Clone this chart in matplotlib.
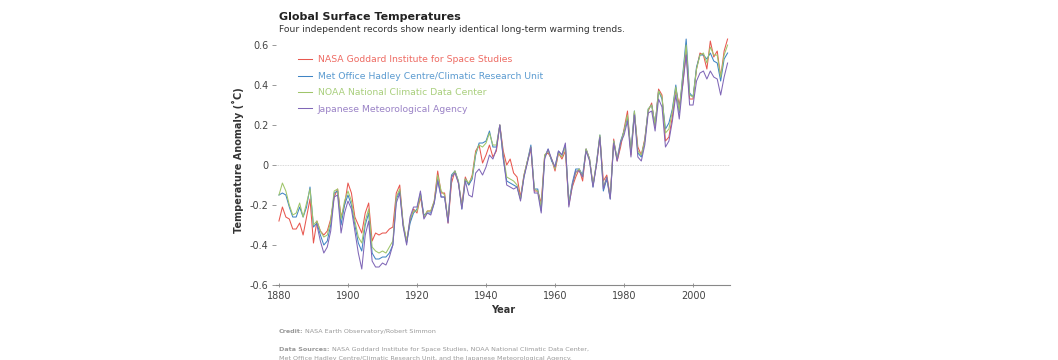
import numpy as np
import matplotlib.pyplot as plt

# Annual temperature anomalies (deg C)
years = np.arange(1880, 2011)
jma_years = np.arange(1891, 2011)

nasa_giss = [
    -0.28, -0.21, -0.26, -0.27, -0.32, -0.32, -0.29, -0.35, -0.26, -0.17,
    -0.39, -0.28, -0.33, -0.35, -0.33, -0.27, -0.16, -0.12, -0.26, -0.20,
    -0.09, -0.14, -0.26, -0.30, -0.34, -0.24, -0.19, -0.38, -0.34, -0.35,
    -0.34, -0.34, -0.32, -0.31, -0.14, -0.10, -0.30, -0.38, -0.28, -0.22,
    -0.24, -0.16, -0.26, -0.23, -0.23, -0.18, -0.03, -0.14, -0.14, -0.29,
    -0.09, -0.03, -0.09, -0.20, -0.06, -0.10, -0.05, 0.07, 0.10, 0.01,
    0.05, 0.10, 0.04, 0.07, 0.20, 0.07, 0.00, 0.03, -0.04, -0.06,
    -0.16, -0.05, 0.02, 0.08, -0.13, -0.13, -0.19, 0.05, 0.06, 0.03,
    -0.03, 0.06, 0.03, 0.07, -0.20, -0.11, -0.06, -0.02, -0.08, 0.08,
    0.03, -0.10, 0.00, 0.14, -0.08, -0.05, -0.16, 0.13, 0.02, 0.09,
    0.18, 0.27, 0.05, 0.26, 0.09, 0.05, 0.13, 0.27, 0.31, 0.19,
    0.38, 0.35, 0.12, 0.14, 0.24, 0.38, 0.30, 0.40, 0.57, 0.33,
    0.33, 0.48, 0.56, 0.55, 0.48, 0.62, 0.54, 0.57, 0.44, 0.57,
    0.63,
]

hadley_cru = [
    -0.15, -0.14, -0.15, -0.21, -0.26, -0.26, -0.21, -0.26, -0.21, -0.11,
    -0.31, -0.29, -0.35, -0.40, -0.38, -0.30, -0.14, -0.13, -0.30, -0.20,
    -0.15, -0.20, -0.30, -0.39, -0.43, -0.30, -0.24, -0.44, -0.47, -0.47,
    -0.46, -0.46, -0.44, -0.40, -0.17, -0.13, -0.30, -0.39, -0.29, -0.24,
    -0.22, -0.14, -0.25, -0.24, -0.24, -0.19, -0.07, -0.16, -0.16, -0.28,
    -0.05, -0.03, -0.08, -0.22, -0.07, -0.10, -0.07, 0.05, 0.11, 0.11,
    0.12, 0.17, 0.09, 0.09, 0.20, 0.03, -0.08, -0.09, -0.10, -0.11,
    -0.17, -0.06, 0.02, 0.10, -0.12, -0.12, -0.23, 0.04, 0.08, 0.02,
    -0.01, 0.07, 0.05, 0.10, -0.19, -0.09, -0.02, -0.02, -0.05, 0.08,
    0.03, -0.11, 0.01, 0.15, -0.13, -0.07, -0.17, 0.12, 0.03, 0.12,
    0.17, 0.24, 0.07, 0.27, 0.06, 0.04, 0.12, 0.28, 0.30, 0.20,
    0.37, 0.33, 0.18, 0.21, 0.28, 0.40, 0.26, 0.45, 0.63, 0.36,
    0.34, 0.49, 0.55, 0.55, 0.53, 0.56, 0.52, 0.51, 0.42, 0.53,
    0.56,
]

noaa_ncdc = [
    -0.15, -0.09, -0.13, -0.20, -0.25, -0.24, -0.19, -0.26, -0.19, -0.12,
    -0.30, -0.28, -0.33, -0.36, -0.35, -0.28, -0.13, -0.12, -0.27, -0.18,
    -0.13, -0.18, -0.28, -0.36, -0.39, -0.28, -0.22, -0.41, -0.43, -0.44,
    -0.43, -0.44, -0.41, -0.38, -0.16, -0.12, -0.29, -0.38, -0.27, -0.23,
    -0.23, -0.15, -0.26, -0.23, -0.23, -0.18, -0.05, -0.13, -0.15, -0.28,
    -0.06, -0.03, -0.08, -0.21, -0.07, -0.09, -0.06, 0.06, 0.10, 0.09,
    0.11, 0.16, 0.10, 0.10, 0.20, 0.05, -0.06, -0.07, -0.08, -0.10,
    -0.17, -0.05, 0.02, 0.09, -0.12, -0.13, -0.21, 0.05, 0.07, 0.03,
    -0.02, 0.06, 0.04, 0.09, -0.19, -0.10, -0.04, -0.02, -0.06, 0.08,
    0.03, -0.10, 0.01, 0.15, -0.11, -0.06, -0.16, 0.12, 0.03, 0.11,
    0.17, 0.25, 0.06, 0.27, 0.07, 0.05, 0.12, 0.28, 0.30, 0.20,
    0.37, 0.34, 0.16, 0.18, 0.27, 0.39, 0.27, 0.44, 0.60, 0.35,
    0.34, 0.48, 0.55, 0.56, 0.51, 0.59, 0.55, 0.55, 0.44, 0.55,
    0.60,
]

jma = [
    -0.30, -0.38, -0.44, -0.41, -0.33, -0.16, -0.15, -0.34, -0.24,
    -0.18, -0.22, -0.33, -0.44, -0.52, -0.35, -0.28, -0.48, -0.51, -0.51,
    -0.49, -0.50, -0.46, -0.40, -0.19, -0.14, -0.31, -0.40, -0.26, -0.21,
    -0.21, -0.13, -0.27, -0.24, -0.25, -0.19, -0.08, -0.16, -0.16, -0.29,
    -0.06, -0.04, -0.09, -0.22, -0.08, -0.15, -0.16, -0.04, -0.02, -0.05,
    -0.01, 0.05, 0.03, 0.08, 0.20, 0.04, -0.10, -0.11, -0.12, -0.11,
    -0.18, -0.06, 0.01, 0.09, -0.14, -0.14, -0.24, 0.03, 0.08, 0.03,
    -0.01, 0.07, 0.05, 0.11, -0.21, -0.10, -0.03, -0.03, -0.06, 0.07,
    0.02, -0.11, 0.00, 0.14, -0.12, -0.06, -0.17, 0.11, 0.02, 0.11,
    0.15, 0.22, 0.04, 0.25, 0.04, 0.02, 0.10, 0.26, 0.27, 0.17,
    0.33, 0.29, 0.09, 0.12, 0.22, 0.35, 0.23, 0.40, 0.55, 0.30,
    0.30, 0.42, 0.46, 0.47, 0.43, 0.47, 0.44, 0.43, 0.35, 0.44,
    0.51,
]

labels = [
    "NASA Goddard Institute for Space Studies",
    "Met Office Hadley Centre/Climatic Research Unit",
    "NOAA National Climatic Data Center",
    "Japanese Meteorological Agency",
]
line_colors = ["#e8574f", "#3f84c4", "#9fc56a", "#8067b7"]
text_colors = ["#ee6b63", "#5b9bd0", "#a9cf7d", "#9a82c6"]
yticks = [-0.6, -0.4, -0.2, 0, 0.2, 0.4, 0.6]
xticks = [1880, 1900, 1920, 1940, 1960, 1980, 2000]

plt.rcParams["font.family"] = "DejaVu Sans"

fig = plt.figure(figsize=(10.58, 3.6), dpi=100)
ax = fig.add_axes([0.2604, 0.2083, 0.4299, 0.6944])

series = [(years, nasa_giss), (years, hadley_cru), (years, noaa_ncdc), (jma_years, jma)]
for (x, y), c, lab in zip(series, line_colors, labels):
    ax.plot(x, y, color=c, lw=0.75, label=lab)

ax.axhline(0, color="#cccccc", lw=0.6, ls=(0, (1, 1)), zorder=0)

ax.set_xlim(1879, 2010.8)
ax.set_ylim(-0.6, 0.65)
ax.set_xticks(xticks)
ax.set_yticks(yticks)
ax.set_yticklabels(["-0.6", "-0.4", "-0.2", "0", "0.2", "0.4", "0.6"])
for s in ["top", "right", "left"]:
    ax.spines[s].set_visible(False)
ax.spines["bottom"].set_color("#888888")
ax.spines["bottom"].set_linewidth(0.8)
ax.tick_params(axis="x", direction="inout", length=3, width=0.6, color="#888888",
               labelsize=7, labelcolor="#444444", pad=3)
ax.tick_params(axis="y", direction="out", length=3, width=0.6, color="#888888",
               labelsize=7, labelcolor="#444444", pad=2)

ax.set_xlabel("Year", fontsize=7, fontweight="bold", color="#333333", labelpad=3)
ax.set_ylabel("Temperature Anomaly (˚C)", fontsize=7, fontweight="bold",
              color="#333333", labelpad=4)

leg = ax.legend(loc="upper left", bbox_to_anchor=(0.03, 0.952), frameon=False,
                fontsize=6.7, handlelength=1.6, handletextpad=0.6, labelspacing=0.8)
for t, c in zip(leg.get_texts(), text_colors):
    t.set_color(c)

fig.text(0.2637, 0.945, "Global Surface Temperatures", fontsize=8,
         fontweight="bold", color="#222222")
fig.text(0.2637, 0.91, "Four independent records show nearly identical long-term warming trends.",
         fontsize=6.6, color="#333333")

fig.text(0.2637, 0.075, "Credit:", fontsize=4.6, fontweight="bold", color="#999999")
fig.text(0.2885, 0.075, "NASA Earth Observatory/Robert Simmon", fontsize=4.6, color="#999999")
fig.text(0.2637, 0.025, "Data Sources:", fontsize=4.6, fontweight="bold", color="#999999")
fig.text(0.3135, 0.025, "NASA Goddard Institute for Space Studies, NOAA National Climatic Data Center,",
         fontsize=4.6, color="#999999")
fig.text(0.2637, 0.0, "Met Office Hadley Centre/Climatic Research Unit, and the Japanese Meteorological Agency.",
         fontsize=4.6, color="#999999")

fig.savefig("out.png", dpi=100)
